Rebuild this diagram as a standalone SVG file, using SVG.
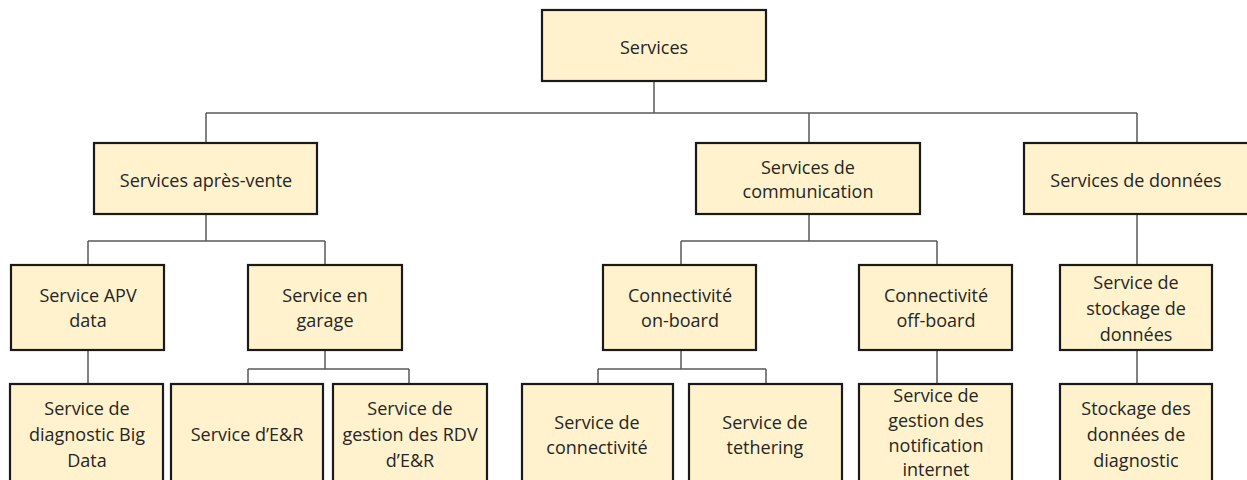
<svg xmlns="http://www.w3.org/2000/svg" width="1247" height="480" viewBox="0 0 1247 480">
<style>
.box{fill:#FFF2CC;stroke:#1a1a1a;stroke-width:2.2}
.t{font-family:"Open Sans","Liberation Sans",sans-serif;font-size:18px;fill:#262626;text-anchor:middle}
.c{fill:none;stroke:#595959;stroke-width:1.5}
</style>
<rect width="1247" height="480" fill="#ffffff"/>
<g id="connectors">
<path class="c" d="M654 81V113M206 113H1137M206 113V143M809 113V143M1137 113V143"/>
<path class="c" d="M206 214V241M88 241H325M88 241V265M325 241V265"/>
<path class="c" d="M809 214V241M681 241H937M681 241V265M937 241V265"/>
<path class="c" d="M1137 214V265"/>
<path class="c" d="M88 350V384"/>
<path class="c" d="M325 350V369M248 369H409M248 369V384M409 369V384"/>
<path class="c" d="M681 350V369M598 369H766M598 369V384M766 369V384"/>
<path class="c" d="M937 350V384"/>
<path class="c" d="M1137 350V384"/>
</g>
<g id="services"><rect class="box" x="542" y="10" width="224" height="71"/><text class="t" x="654" y="54">Services</text></g>
<g id="apres-vente"><rect class="box" x="94" y="143" width="223" height="71"/><text class="t" x="206" y="187">Services après-vente</text></g>
<g id="communication"><rect class="box" x="696" y="143" width="224" height="71"/><text class="t" x="808" y="174">Services de</text><text class="t" x="808" y="198">communication</text></g>
<g id="donnees"><rect class="box" x="1024" y="143" width="228" height="71"/><text class="t" x="1136" y="187">Services de données</text></g>
<g id="apv-data"><rect class="box" x="11" y="265" width="153" height="85"/><text class="t" x="88" y="302">Service APV</text><text class="t" x="88" y="327">data</text></g>
<g id="garage"><rect class="box" x="248" y="265" width="154" height="85"/><text class="t" x="325" y="302">Service en</text><text class="t" x="325" y="327">garage</text></g>
<g id="on-board"><rect class="box" x="603" y="265" width="153" height="85"/><text class="t" x="680" y="302">Connectivité</text><text class="t" x="680" y="327">on-board</text></g>
<g id="off-board"><rect class="box" x="859" y="265" width="153" height="85"/><text class="t" x="936" y="302">Connectivité</text><text class="t" x="936" y="327">off-board</text></g>
<g id="stockage"><rect class="box" x="1060" y="265" width="152" height="85"/><text class="t" x="1136" y="289">Service de</text><text class="t" x="1136" y="315">stockage de</text><text class="t" x="1136" y="341">données</text></g>
<g id="big-data"><rect class="box" x="10" y="384" width="153" height="104"/><text class="t" x="87" y="415">Service de</text><text class="t" x="87" y="441">diagnostic Big</text><text class="t" x="87" y="467">Data</text></g>
<g id="er"><rect class="box" x="171" y="384" width="152" height="104"/><text class="t" x="247" y="441">Service d’E&amp;R</text></g>
<g id="rdv"><rect class="box" x="333" y="384" width="154" height="104"/><text class="t" x="410" y="415">Service de</text><text class="t" x="410" y="441">gestion des RDV</text><text class="t" x="410" y="467">d’E&amp;R</text></g>
<g id="connectivite"><rect class="box" x="522" y="384" width="151" height="104"/><text class="t" x="597" y="429">Service de</text><text class="t" x="597" y="454">connectivité</text></g>
<g id="tethering"><rect class="box" x="689" y="384" width="153" height="104"/><text class="t" x="765" y="429">Service de</text><text class="t" x="765" y="454">tethering</text></g>
<g id="notification"><rect class="box" x="859" y="384" width="153" height="104"/><text class="t" x="936" y="402">Service de</text><text class="t" x="936" y="427">gestion des</text><text class="t" x="936" y="452">notification</text><text class="t" x="936" y="476">internet</text></g>
<g id="diagnostic"><rect class="box" x="1060" y="384" width="152" height="104"/><text class="t" x="1136" y="415">Stockage des</text><text class="t" x="1136" y="441">données de</text><text class="t" x="1136" y="467">diagnostic</text></g>
</svg>
